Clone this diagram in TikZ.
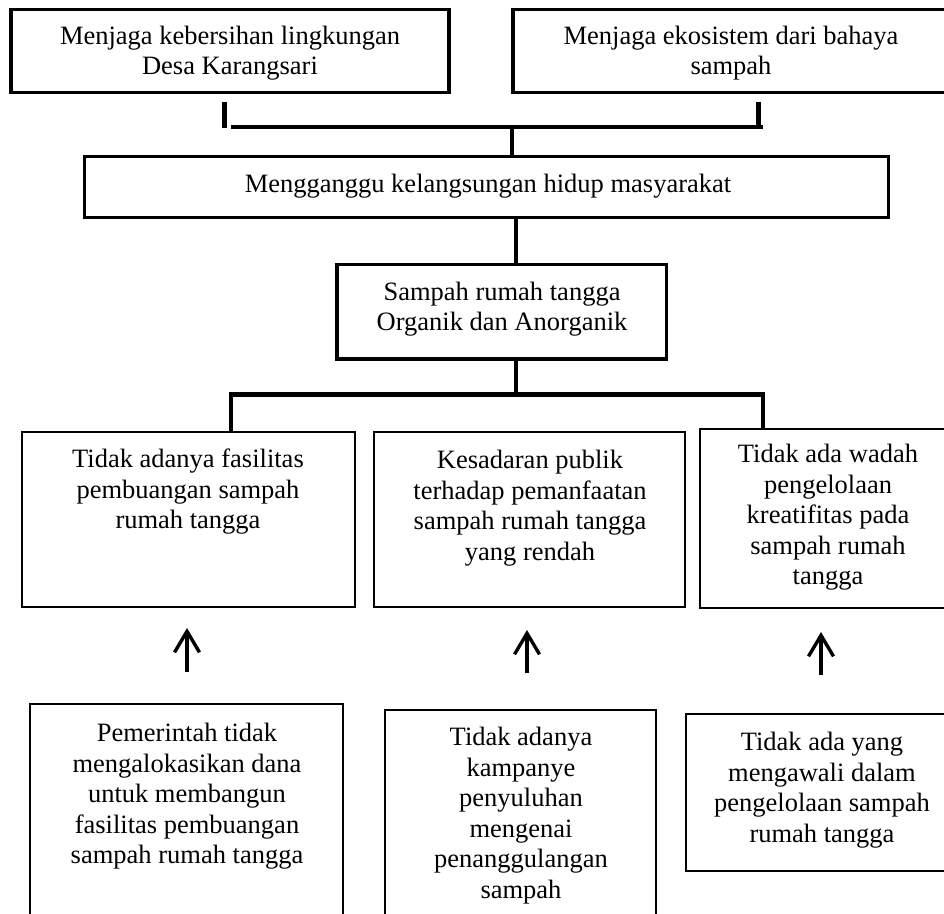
\documentclass[tikz,border=0pt]{standalone}
\usepackage{fontspec}
\setmainfont{Liberation Serif}
\usetikzlibrary{arrows.meta}
\tikzset{
  thickbox/.style={draw=black, line width=3.5pt, rectangle},
  thinbox/.style={draw=black, line width=1.4pt, rectangle},
  conn/.style={draw=black, line width=4.5pt},
  tick/.style={draw=black, line width=5pt},
  uparrow/.style={draw=black, line width=3.2pt, -{Straight Barb[length=21pt,width=25pt,line width=3.4pt]}},
  lbl/.style={font=\fontsize{26.5}{30.5}\selectfont, align=center, inner sep=0pt},
}
\begin{document}
\begin{tikzpicture}[x=1pt,y=-1pt]
\clip (0,0) rectangle (944,913);
\fill[white] (0,0) rectangle (944,913);
% boxes
\node[thickbox, minimum width=438pt, minimum height=83pt] (b1) at (230,51) {};
\node[thickbox, minimum width=436pt, minimum height=83pt] (b2) at (731,51) {};
\node[thickbox, minimum width=804pt, minimum height=61pt] (b3) at (486.5,187) {};
\node[thickbox, minimum width=329.5pt, minimum height=94.5pt] (b4) at (501.75,311.75) {};
\node[thinbox, minimum width=333pt, minimum height=175pt] (bA) at (188.5,519.5) {};
\node[thinbox, minimum width=311pt, minimum height=175pt] (bB) at (529.5,519.5) {};
\node[thinbox, minimum width=256pt, minimum height=179pt] (bC) at (828,518.5) {};
\node[thinbox, minimum width=313pt, minimum height=226pt] (bD) at (186.5,817) {};
\node[thinbox, minimum width=271pt, minimum height=220pt] (bE) at (520.5,820) {};
\node[thinbox, minimum width=272pt, minimum height=157pt] (bF) at (822,792.5) {};
% texts
\node[lbl] (t1) at (230,53) {Menjaga kebersihan lingkungan\\Desa Karangsari};
\node[lbl] (t2) at (731,53) {Menjaga ekosistem dari bahaya\\sampah};
\node[lbl] (t3) at (488,186) {Mengganggu kelangsungan hidup masyarakat};
\node[lbl] (t4) at (502,309) {Sampah rumah tangga\\Organik dan Anorganik};
\node[lbl, anchor=north] (tA) at (188,449) {Tidak adanya fasilitas\\pembuangan sampah\\rumah tangga};
\node[lbl, anchor=north] (tB) at (530,450) {Kesadaran publik\\terhadap pemanfaatan\\sampah rumah tangga\\yang rendah};
\node[lbl, anchor=north] (tC) at (828,444) {Tidak ada wadah\\pengelolaan\\kreatifitas pada\\sampah rumah\\tangga};
\node[lbl, anchor=north] (tD) at (187,723) {Pemerintah tidak\\mengalokasikan dana\\untuk membangun\\fasilitas pembuangan\\sampah rumah tangga};
\node[lbl, anchor=north] (tE) at (521,727) {Tidak adanya\\kampanye\\penyuluhan\\mengenai\\penanggulangan\\sampah};
\node[lbl, anchor=north] (tF) at (822,732) {Tidak ada yang\\mengawali dalam\\pengelolaan sampah\\rumah tangga};
% top connectors
\coordinate (tk1a) at (224,102);
\coordinate (tk1b) at (224,128);
\coordinate (tk2a) at (758.5,102);
\coordinate (tk2b) at (758.5,128);
\draw[tick] (tk1a) -- (tk1b);
\draw[tick] (tk2a) -- (tk2b);
\coordinate (bar1l) at (231,127);
\coordinate (bar1r) at (763,127);
\coordinate (bar1m) at (512,127);
\draw[conn] (bar1l) -- (bar1r);
\draw[conn] (bar1m) -- (bar1m |- b3.north);
\draw[conn] (b3.south -| 516,0) -- (b4.north -| 516,0);
\coordinate (bar2m) at (516,394.5);
\coordinate (bar2l) at (231,394.5);
\coordinate (bar2r) at (763,394.5);
\draw[conn] (b4.south -| bar2m) -- (bar2m);
\draw[conn] ([xshift=-2.25pt]bar2l) -- ([xshift=2.25pt]bar2r);
\draw[conn] (bar2l) -- (bar2l |- bA.north);
\draw[conn] (bar2r) -- (bar2r |- bC.north);
% arrows
\coordinate (aA1) at (187,672);
\coordinate (aA2) at (187,628);
\coordinate (aB1) at (527,673);
\coordinate (aB2) at (527,630);
\coordinate (aC1) at (821,675);
\coordinate (aC2) at (821,632);
\draw[uparrow] (aA1) -- (aA2);
\draw[uparrow] (aB1) -- (aB2);
\draw[uparrow] (aC1) -- (aC2);
\end{tikzpicture}
\end{document}
